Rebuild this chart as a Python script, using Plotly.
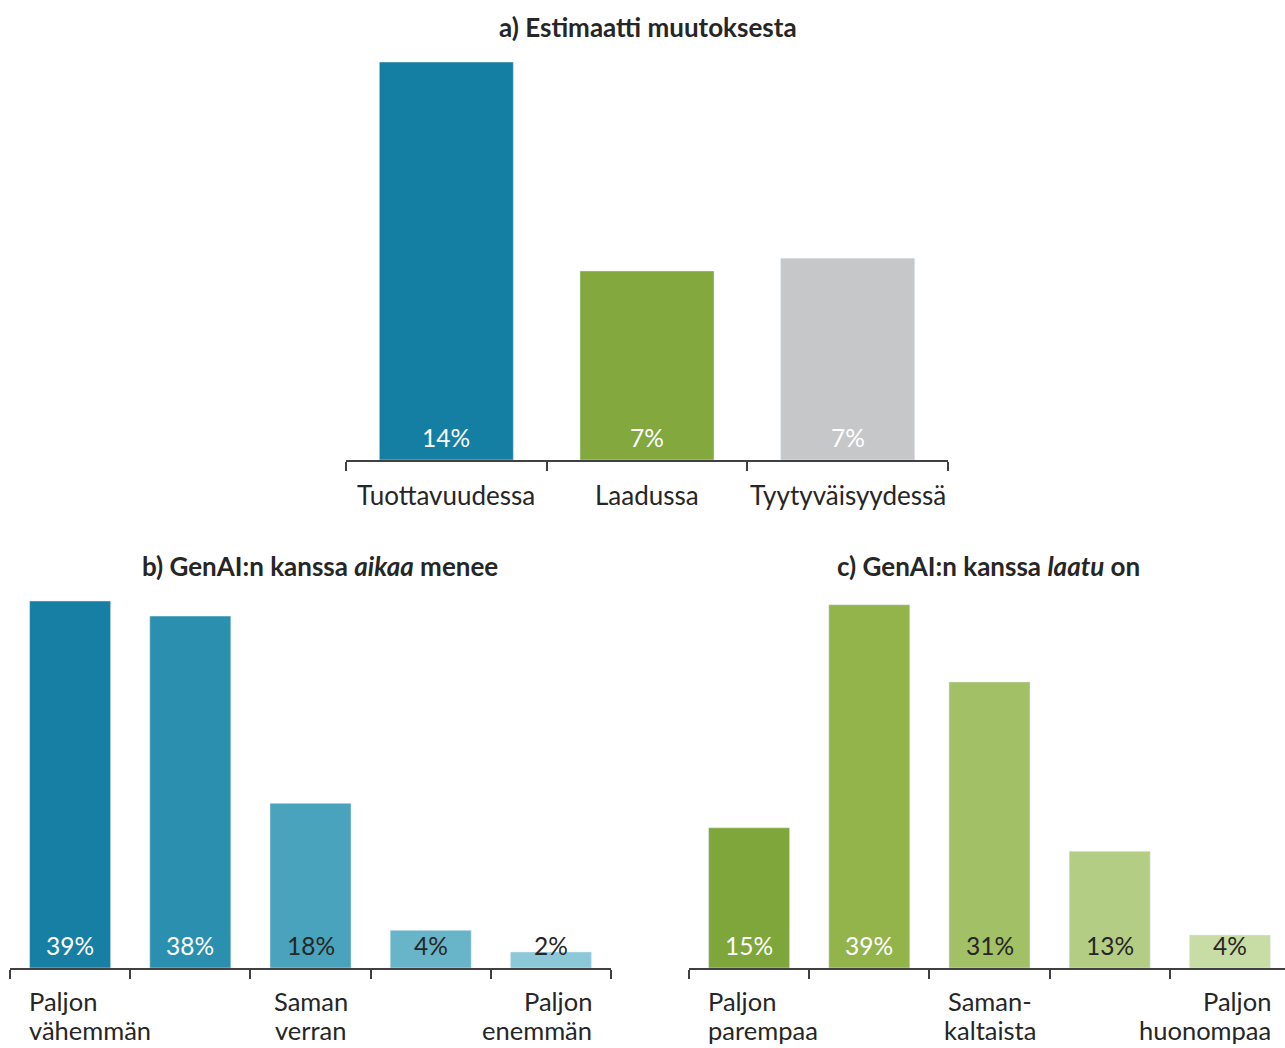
import plotly.graph_objects as go

# ---- data ----
a_categories = ["Tuottavuudessa", "Laadussa", "Tyytyväisyydessä"]
a_values = [14.0, 6.65, 7.1]
a_labels = ["14%", "7%", "7%"]

b_categories = ["Paljon vähemmän", "Vähemmän", "Saman verran", "Enemmän", "Paljon enemmän"]
b_values = [39.0, 37.4, 17.5, 4.0, 1.7]
b_labels = ["39%", "38%", "18%", "4%", "2%"]
b_axis_labels = ["Paljon<br>vähemmän", "", "Saman<br>verran", "", "Paljon<br>enemmän"]

c_categories = ["Paljon parempaa", "Parempaa", "Samankaltaista", "Huonompaa", "Paljon huonompaa"]
c_values = [14.9, 38.6, 30.4, 12.4, 3.5]
c_labels = ["15%", "39%", "31%", "13%", "4%"]
c_axis_labels = ["Paljon<br>parempaa", "", "Saman-<br>kaltaista", "", "Paljon<br>huonompaa"]

titles = ["a) Estimaatti muutoksesta",
          "b) GenAI:n kanssa <i>aikaa</i> menee",
          "c) GenAI:n kanssa <i>laatu</i> on"]

# ---- styles ----
a_colors = ["#157FA3", "#82A83E", "#C6C7C9"]
b_colors = ["#167FA3", "#2B8FAF", "#4AA3BC", "#68B5C9", "#8CC8D7"]
c_colors = ["#7EA63A", "#92B44A", "#A2C065", "#B3CE84", "#C8DCA6"]
a_text_colors = ["white", "white", "white"]
b_text_colors = ["white", "white", "#262626", "#262626", "#262626"]
c_text_colors = ["white", "white", "#262626", "#262626", "#262626"]

FONT = "Lato, 'Open Sans', sans-serif"
DARK = "#262626"
LINE = "#404040"
W, H = 1285, 1048
LABEL_SIZE = 26
BC_LABEL_SIZE = 25.5
VALUE_SIZE = 24.5
TITLE_SIZE = 26

fig = go.Figure()
fig.add_trace(go.Bar(x=a_categories, y=a_values, marker_color=a_colors, width=0.668,
                     xaxis="x", yaxis="y", hoverinfo="skip"))
fig.add_trace(go.Bar(x=b_categories, y=b_values, marker_color=b_colors, width=0.674,
                     xaxis="x2", yaxis="y2", hoverinfo="skip"))
fig.add_trace(go.Bar(x=c_categories, y=c_values, marker_color=c_colors, width=0.674,
                     xaxis="x3", yaxis="y3", hoverinfo="skip"))

def px_x(p):
    return p / W

def px_y(p):
    return 1 - p / H

xcommon = dict(type="category", tickson="boundaries", ticks="outside", ticklen=9,
               tickwidth=1.5, tickcolor=LINE, showline=True, linecolor=LINE, linewidth=1.5,
               showticklabels=False, showgrid=False, zeroline=False, fixedrange=True)
ycommon = dict(visible=False, showgrid=False, zeroline=False, fixedrange=True)

b_top = px_y(968 - 40 * 9.41)
fig.update_layout(
    width=W, height=H, margin=dict(l=0, r=0, t=0, b=0),
    paper_bgcolor="white", plot_bgcolor="white", showlegend=False,
    font=dict(family=FONT, color=DARK),
    xaxis=dict(domain=[px_x(346), px_x(948)], anchor="y", **xcommon),
    yaxis=dict(domain=[px_y(460), px_y(62)], range=[0, 14], anchor="x", **ycommon),
    xaxis2=dict(domain=[px_x(10), px_x(611)], anchor="y2", **xcommon),
    yaxis2=dict(domain=[px_y(968), b_top], range=[0, 40], anchor="x2", **ycommon),
    xaxis3=dict(domain=[px_x(689), 1.0], anchor="y3", range=[-0.5, -0.5 + 596 / 120.2], **xcommon),
    yaxis3=dict(domain=[px_y(968), b_top], range=[0, 40], anchor="x3", **ycommon),
)

ann = []
# titles
for t, cx, cy in zip(titles, [647.5, 319.5, 988.5], [27, 566, 566]):
    ann.append(dict(text="<b>" + t + "</b>", x=px_x(cx), y=px_y(cy), xref="paper", yref="paper",
                    xanchor="center", yanchor="middle", showarrow=False,
                    font=dict(size=TITLE_SIZE, family=FONT, color=DARK)))

# value labels inside bars
def add_values(xref, yref, labels, colors):
    for i, (l, col) in enumerate(zip(labels, colors)):
        ann.append(dict(text=l, x=i, y=0, xref=xref, yref=yref, xanchor="center",
                        yanchor="middle", yshift=23, showarrow=False,
                        font=dict(size=VALUE_SIZE, family=FONT, color=col)))

add_values("x", "y", a_labels, a_text_colors)
add_values("x2", "y2", b_labels, b_text_colors)
add_values("x3", "y3", c_labels, c_text_colors)

# category labels for a
for i, c in enumerate(a_categories):
    ann.append(dict(text=c, x=i, y=0, xref="x", yref="y", xanchor="center", yanchor="middle",
                    yshift=-35, showarrow=False, font=dict(size=LABEL_SIZE, family=FONT, color=DARK)))

# category labels for b and c (each line placed separately)
def add_cat_labels(xref, yref, labels):
    n = len(labels)
    for i, l in enumerate(labels):
        if not l:
            continue
        if i == 0:
            xa, xv, xs = "left", i - 0.337, -3
        elif i == n - 1:
            xa, xv, xs = "right", i + 0.337, 3
        else:
            xa, xv, xs = "center", i, 0
        for k, line in enumerate(l.split("<br>")):
            ann.append(dict(text=line, x=xv, y=0, xref=xref, yref=yref, xanchor=xa,
                            yanchor="middle", yshift=-33 - 29 * k, xshift=xs, showarrow=False,
                            font=dict(size=BC_LABEL_SIZE, family=FONT, color=DARK)))

add_cat_labels("x2", "y2", b_axis_labels)
add_cat_labels("x3", "y3", c_axis_labels)

fig.update_layout(annotations=ann)
fig.write_html("out.html")
